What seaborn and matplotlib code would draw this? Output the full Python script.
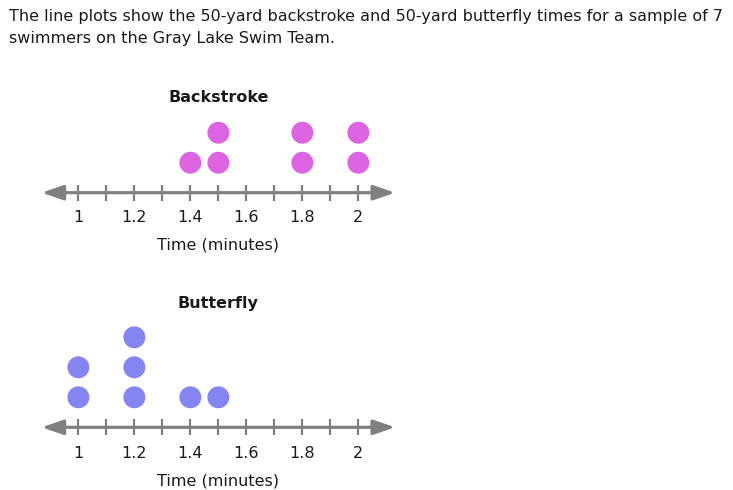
import matplotlib
matplotlib.use("Agg")
import matplotlib.pyplot as plt
import seaborn as sns
import pandas as pd

# ---- data ----
backstroke_times = [1.4, 1.5, 1.5, 1.8, 1.8, 2.0, 2.0]
butterfly_times = [1.0, 1.0, 1.2, 1.2, 1.2, 1.4, 1.5]
tick_values = [1.0, 1.1, 1.2, 1.3, 1.4, 1.5, 1.6, 1.7, 1.8, 1.9, 2.0]
tick_labels = ["1", "", "1.2", "", "1.4", "", "1.6", "", "1.8", "", "2"]
panel_titles = ["Backstroke", "Butterfly"]
x_label = "Time (minutes)"
header = ("The line plots show the 50-yard backstroke and 50-yard butterfly times for a sample of 7\n"
          "swimmers on the Gray Lake Swim Team.")

sns.set_theme(style="white")
plt.rcParams['font.family'] = ['DejaVu Sans']

W, H = 733, 490
fig = plt.figure(figsize=(W / 100, H / 100), dpi=100)

AX_GRAY = "#808080"
TXT = "#1a1a1a"
colors = ["#DC64E1", "#8585F2"]
FS = 11.5

xmin, xmax = 0.869, 2.131
left_px, right_px = 41.7, 395.0
unit_px = 30.0


def make_panel(axis_y_px, times, color, title, title_y_px, tick_y_px, label_y_px):
    below, above = 1.5, 3.6
    bottom_px = axis_y_px + below * unit_px
    top_px = axis_y_px - above * unit_px
    ax = fig.add_axes([left_px / W, 1 - bottom_px / H,
                       (right_px - left_px) / W, (bottom_px - top_px) / H])
    df = pd.DataFrame({"time": times})
    df["level"] = df.groupby("time").cumcount() + 1
    sns.scatterplot(data=df, x="time", y="level", ax=ax, color=color, s=250,
                    edgecolor="none", linewidth=0, legend=False, zorder=3)
    ax.set_xlim(xmin, xmax)
    ax.set_ylim(-below, above)
    for s in ax.spines.values():
        s.set_visible(False)
    ax.set_yticks([])
    ax.set_xlabel("")
    ax.set_ylabel("")
    # number line with arrows
    ax.annotate("", xy=(xmax, 0), xytext=(xmin, 0),
                arrowprops=dict(arrowstyle="<|-|>,head_length=1.3,head_width=0.45",
                                mutation_scale=10, color=AX_GRAY, lw=2.3,
                                shrinkA=0, shrinkB=0), zorder=2)
    ax.vlines(tick_values, -8 / unit_px, 8 / unit_px, color=AX_GRAY, lw=1.6, zorder=2)
    ax.set_xticks([])
    for v, lab in zip(tick_values, tick_labels):
        if lab:
            ax.text(v, -(tick_y_px - axis_y_px) / unit_px, lab, ha="center", va="center",
                    fontsize=FS, color=TXT)
    ax.text(1.5, -(label_y_px - axis_y_px) / unit_px, x_label, ha="center", va="center",
            fontsize=FS, color=TXT)
    ax.text(1.5, (axis_y_px - title_y_px) / unit_px, title, ha="center", va="center",
            fontsize=FS, fontweight="bold", color=TXT)
    return ax


make_panel(192.7, backstroke_times, colors[0], panel_titles[0], 97.5, 217.5, 245.0)
make_panel(427.3, butterfly_times, colors[1], panel_titles[1], 303.5, 453.0, 481.0)

fig.text(9 / W, 1 - 9.5 / H, header, ha="left", va="top", fontsize=FS,
         color=TXT, linespacing=1.52)

fig.savefig("out.png", dpi=100, facecolor="white")
